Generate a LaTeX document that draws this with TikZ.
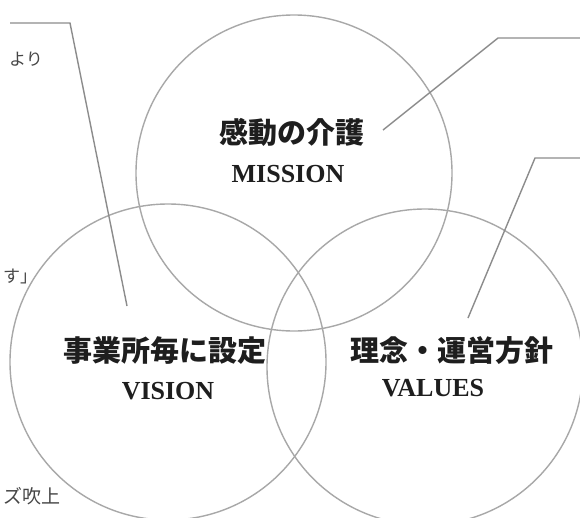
\documentclass[tikz,border=0pt]{standalone}
\usepackage{fontspec}
\setmainfont{Liberation Serif}
\newfontfamily\jp{Noto Sans CJK JP}
\definecolor{circgray}{RGB}{168,168,168}
\definecolor{linegray}{RGB}{140,140,140}
\definecolor{textdark}{RGB}{30,30,30}
\definecolor{fraggray}{RGB}{70,70,70}
\tikzset{
  ring/.style={circle, draw=circgray, line width=1.4pt, minimum size=316pt, inner sep=0pt},
  callout/.style={draw=linegray, line width=1.4pt},
  jptitle/.style={font=\jp\bfseries\fontsize{29}{31}\selectfont, text=textdark, inner sep=0pt},
  entitle/.style={font=\bfseries\fontsize{26}{28}\selectfont, text=textdark, inner sep=0pt},
  frag/.style={font=\jp\fontsize{17}{19}\selectfont, text=fraggray, inner sep=0pt, anchor=west},
}
\begin{document}
\begin{tikzpicture}[x=1pt, y=-1pt]
\useasboundingbox (0,0) rectangle (580,517);
\clip (0,0) rectangle (580,517);
\fill[white] (0,0) rectangle (580,517);
% circles
\node[ring] (mission) at (294,173) {};
\node[ring] (vision) at (168,362) {};
\node[ring] (values) at (425,367) {};
% titles
\node[jptitle] (t1) at (292,132) {感動の介護};
\node[entitle] (e1) at (288,174) {MISSION};
\node[jptitle] (t2) at (165,351) {事業所毎に設定};
\node[entitle] (e2) at (168,391) {VISION};
\node[jptitle] (t3) at (452,351) {理念・運営方針};
\node[entitle] (e3) at (433,388) {VALUES};
% left fragments
\node[frag] (f1) at (9,59) {より};
\node[frag] (f3) at (3,276) {す」};
\node[frag, font=\jp\fontsize{19}{21}\selectfont] (f4) at (3,496) {ズ吹上};
% callout lines
\coordinate (a1) at (10,23);
\coordinate (a2) at (70,23);
\coordinate (a3) at (127,306);
\draw[callout] (a1) -- (a2) -- (a3);
\coordinate (b1) at (582,38);
\coordinate (b2) at (498,38);
\coordinate (b3) at (383,130);
\draw[callout] (b1) -- (b2) -- (b3);
\coordinate (c1) at (582,158);
\coordinate (c2) at (535,158);
\coordinate (c3) at (468,318);
\draw[callout] (c1) -- (c2) -- (c3);
\end{tikzpicture}
\end{document}
